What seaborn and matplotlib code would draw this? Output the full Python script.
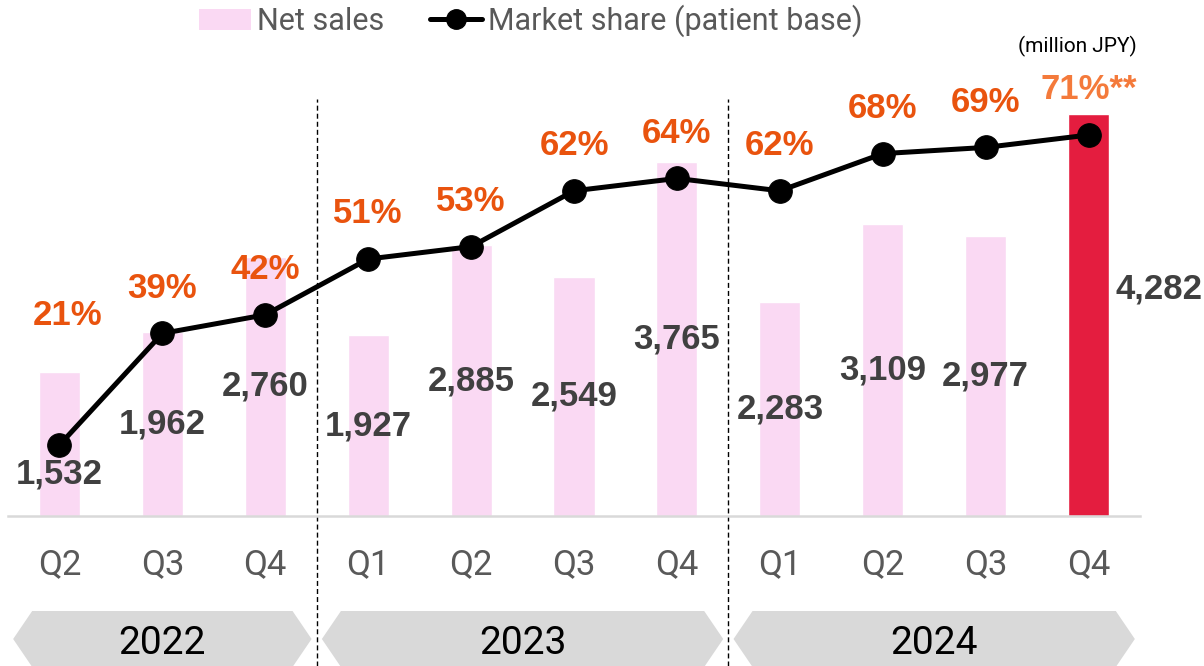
import matplotlib
matplotlib.use("Agg")
import matplotlib.pyplot as plt
import matplotlib.transforms as mtransforms
from matplotlib.patches import Patch, Polygon
from matplotlib.lines import Line2D
import seaborn as sns
import pandas as pd

# Data
quarters = ["Q2", "Q3", "Q4", "Q1", "Q2", "Q3", "Q4", "Q1", "Q2", "Q3", "Q4"]
years = ["2022", "2022", "2022", "2023", "2023", "2023", "2023", "2024", "2024", "2024", "2024"]
net_sales = [1532, 1962, 2760, 1927, 2885, 2549, 3765, 2283, 3109, 2977, 4282]
market_share = [21, 39, 42, 51, 53, 62, 64, 62, 68, 69, 71]
share_labels = ["21%", "39%", "42%", "51%", "53%", "62%", "64%", "62%", "68%", "69%", "71%**"]

# Styling
PINK = "#FAD9F3"
RED = "#E41D3F"
ORANGE = "#E9530E"
LIGHT_ORANGE = "#F47A3B"
GREY_TXT = "#595959"
DARK_TXT = "#404040"
BANNER = "#D9D9D9"

sns.set_style("white")
plt.rcParams["font.family"] = ["Roboto", "DejaVu Sans"]
BOLD_FONT = ["Liberation Sans", "DejaVu Sans"]

df = pd.DataFrame({
    "key": [f"{y} {q}" for y, q in zip(years, quarters)],
    "quarter": quarters,
    "year": years,
    "sales": net_sales,
    "share": market_share,
})
df["pos"] = range(len(df))
bar_colors = [PINK] * (len(df) - 1) + [RED]

fig = plt.figure(figsize=(12.04, 6.66), dpi=100)
ax = fig.add_axes([8 / 1204, 150 / 666, 1132 / 1204, 456 / 666])

sns.barplot(data=df, x="key", y="sales", hue="key", palette=bar_colors,
            legend=False, width=0.4, saturation=1, ax=ax)
ax.set_ylim(0, 4856)
ax.set_xlim(-0.5, len(df) - 0.5)
ax.set_xlabel("")
ax.set_ylabel("")
ax.set_yticks([])
ax.set_xticks(df["pos"])
ax.set_xticklabels(df["quarter"], fontsize=25, color=GREY_TXT)
ax.tick_params(axis="x", length=0, pad=23)
for side in ["top", "left", "right"]:
    ax.spines[side].set_visible(False)
ax.spines["bottom"].set_color(BANNER)
ax.spines["bottom"].set_linewidth(1.8)

# Net sales value labels (mid-bar, with a couple of nudges)
value_offsets = [(0, -21.6)] + [(0, 0)] * (len(df) - 2) + [(51, 18.7)]
for i, (v, off) in enumerate(zip(df["sales"], value_offsets)):
    ax.annotate(f"{v:,}", (i, v / 2), xytext=off, textcoords="offset points",
                ha="center", va="center", fontsize=25, fontweight="bold",
                color=DARK_TXT, family=BOLD_FONT, zorder=5)

# Market share line on twin axis
ax2 = ax.twinx()
sns.lineplot(data=df, x="pos", y="share", ax=ax2, color="black", linewidth=3.6,
             marker="o", markersize=17, markeredgecolor="black", zorder=4)
ax2.set_ylim(9.55, 83.1)
ax2.set_xlim(-0.5, len(df) - 0.5)
ax2.set_yticks([])
ax2.set_ylabel("")
ax2.set_xlabel("")
for side in ["top", "left", "right", "bottom"]:
    ax2.spines[side].set_visible(False)

share_offsets = [(5.8, 93.5)] + [(0, 32.5)] * (len(df) - 1)
share_colors = [ORANGE] * (len(df) - 1) + [LIGHT_ORANGE]
for i, (s, lab, off, c) in enumerate(zip(df["share"], share_labels, share_offsets, share_colors)):
    ax2.annotate(lab, (i, s), xytext=off, textcoords="offset points",
                 ha="center", va="center", fontsize=25, fontweight="bold",
                 color=c, family=BOLD_FONT)

# Year separators and banners
trans = mtransforms.blended_transform_factory(ax.transData, fig.transFigure)
groups = df.groupby("year")["pos"].agg(["min", "max"])
ytop, ymid, ybot = 1 - 611 / 666, 1 - 639 / 666, 1 - 667 / 666
for k, (yr, row) in enumerate(groups.iterrows()):
    x0, x1 = row["min"] - 0.45, row["max"] + 0.45
    s = 0.185
    poly = Polygon([(x0, ymid), (x0 + s, ytop), (x1 - s, ytop), (x1, ymid),
                    (x1 - s, ybot), (x0 + s, ybot)], closed=True,
                   facecolor=BANNER, edgecolor="none", transform=trans, clip_on=False)
    ax.add_patch(poly)
    ax.text((row["min"] + row["max"]) / 2, ymid, yr, transform=trans,
            ha="center", va="center_baseline", fontsize=28, color="black")
    if k > 0:
        xs = row["min"] - 0.5
        ax.add_line(Line2D([xs, xs], [0, 1 - 99 / 666], transform=trans, color="black",
                           linewidth=1, linestyle=(0, (3.6, 2.2)), clip_on=False))

# Legend
handles = [Patch(facecolor=PINK, edgecolor="none"),
           Line2D([], [], color="black", linewidth=3.6, marker="o", markersize=14)]
fig.legend(handles, ["Net sales", "Market share (patient base)"],
           loc="center", bbox_to_anchor=(531 / 1204, 1 - 21 / 666), ncol=2,
           frameon=False, fontsize=22, labelcolor=GREY_TXT,
           handlelength=1.7, handletextpad=0.2, columnspacing=1.5)

fig.text(1137 / 1204, 1 - 46 / 666, "(million JPY)", ha="right", va="center",
         fontsize=15, color="black")

fig.savefig("out.png", dpi=100)
